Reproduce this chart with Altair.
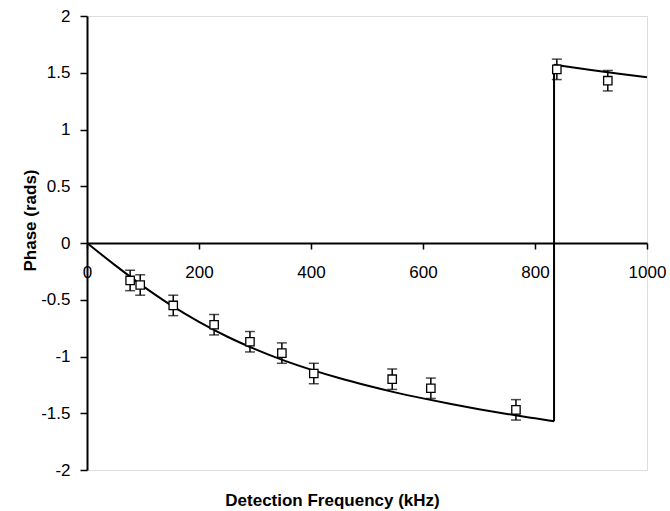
import altair as alt
import pandas as pd

# measured data points
freq = [77, 95, 154, 227, 291, 348, 405, 545, 614, 766, 839, 930]
phase = [-0.33, -0.37, -0.55, -0.72, -0.87, -0.97, -1.15, -1.20, -1.28, -1.47, 1.53, 1.43]
err = [0.09, 0.09, 0.09, 0.09, 0.09, 0.09, 0.09, 0.09, 0.09, 0.09, 0.09, 0.09]

# model curve (lower branch, upper branch)
low_x = [0, 50, 100, 150, 200, 250, 300, 350, 400, 450, 500, 550, 600, 650, 700, 750, 800, 834]
low_y = [0, -0.195, -0.38, -0.548, -0.695, -0.824, -0.935, -1.032, -1.116, -1.19, -1.256,
         -1.316, -1.369, -1.418, -1.464, -1.506, -1.545, -1.571]
up_x = [834, 850, 900, 950, 1000]
up_y = [1.571, 1.559, 1.524, 1.491, 1.46]
jump_x = [834]
jump_lo = [-1.571]
jump_hi = [1.571]

pts = pd.DataFrame({"f": freq, "p": phase, "lo": [p - e for p, e in zip(phase, err)],
                    "hi": [p + e for p, e in zip(phase, err)]})
cur = pd.DataFrame({"f": low_x + up_x, "p": low_y + up_y,
                    "seg": ["low"] * len(low_x) + ["up"] * len(up_x)})
jump = pd.DataFrame({"f": jump_x, "lo": jump_lo, "hi": jump_hi})

FONT = "Liberation Sans"

xscale = alt.Scale(domain=[0, 1000], nice=False, zero=False)
yscale = alt.Scale(domain=[-2, 2], nice=False, zero=False)

xaxis = alt.Axis(orient="bottom", offset=-227, values=[0, 200, 400, 600, 800, 1000], format="d",
                 tickSize=6, labelPadding=15, grid=False, labelFlush=False,
                 domainColor="black", domainWidth=2, tickColor="black", tickWidth=1.5,
                 labelFont=FONT, labelFontSize=17, labelColor="black",
                 title="Detection Frequency (kHz)", titleFont=FONT, titleFontSize=17,
                 titleFontWeight="bold", titleColor="black", titleX=245, titleY=257,
                 titleBaseline="middle", titleAlign="center", titleAnchor="start")
yaxis = alt.Axis(values=[-2, -1.5, -1, -0.5, 0, 0.5, 1, 1.5, 2], tickSize=7, grid=False,
                 labelExpr="toString(datum.value)", labelFlush=False,
                 domainColor="black", domainWidth=2, tickColor="black", tickWidth=1.5,
                 labelFont=FONT, labelFontSize=17, labelColor="black", labelPadding=10,
                 title="Phase (rads)", titleFont=FONT, titleFontSize=17, titleFontWeight="bold",
                 titleColor="black", titleX=-57, titleY=204, titleAngle=-90,
                 titleAlign="center", titleBaseline="middle", titleAnchor="start")

line = alt.Chart(cur).mark_line(color="black", strokeWidth=2, interpolate="monotone").encode(
    x=alt.X("f:Q", scale=xscale, axis=xaxis),
    y=alt.Y("p:Q", scale=yscale, axis=yaxis),
    detail="seg:N",
)
jump_rule = alt.Chart(jump).mark_rule(color="black", strokeWidth=2).encode(
    x=alt.X("f:Q", scale=xscale), y=alt.Y("lo:Q", scale=yscale), y2="hi:Q")

rules = alt.Chart(pts).mark_rule(color="black", strokeWidth=1.5).encode(
    x=alt.X("f:Q", scale=xscale), y=alt.Y("lo:Q", scale=yscale), y2="hi:Q")
cap_lo = alt.Chart(pts).mark_tick(color="black", orient="horizontal", size=10, thickness=1.5).encode(
    x=alt.X("f:Q", scale=xscale), y=alt.Y("lo:Q", scale=yscale))
cap_hi = alt.Chart(pts).mark_tick(color="black", orient="horizontal", size=10, thickness=1.5).encode(
    x=alt.X("f:Q", scale=xscale), y=alt.Y("hi:Q", scale=yscale))
points = alt.Chart(pts).mark_point(shape="square", size=70, filled=False, fill="white",
                                   fillOpacity=1, color="black", strokeWidth=1.3, opacity=1).encode(
    x=alt.X("f:Q", scale=xscale), y=alt.Y("p:Q", scale=yscale))

chart = alt.layer(line, jump_rule, rules, cap_lo, cap_hi, points).properties(
    width=560, height=454,
    autosize=alt.AutoSizeParams(type="none"),
    padding={"left": 87, "top": 16, "right": 23, "bottom": 41},
).configure_view(stroke=None).configure(background="white")

chart.save("out.html", embed_options={"renderer": "svg", "actions": False})
